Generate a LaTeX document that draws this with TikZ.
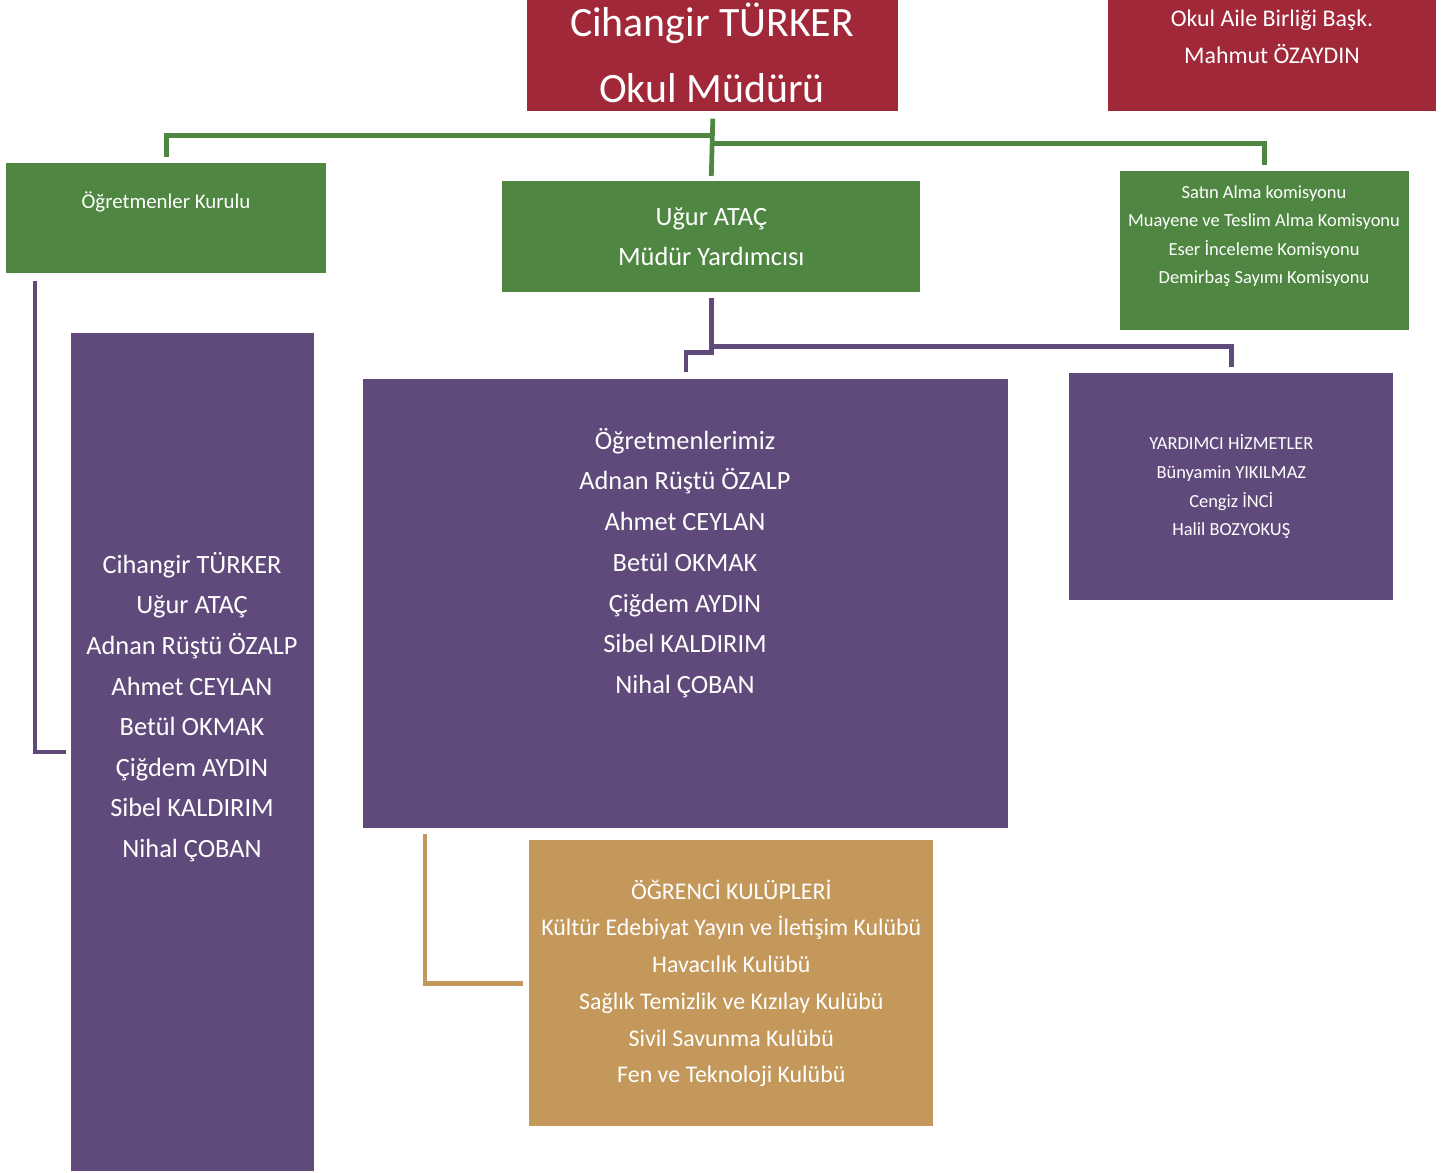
\documentclass[tikz,border=0pt]{standalone}
\usepackage{fontspec}
\setmainfont{Carlito}
\usetikzlibrary{positioning, calc}

\definecolor{okulred}{RGB}{161,40,56}
\definecolor{okulgreen}{RGB}{79,135,66}
\definecolor{okulpurple}{RGB}{96,74,123}
\definecolor{okultan}{RGB}{195,152,90}

\tikzset{
  box/.style={rectangle, anchor=north west, inner sep=0pt, text=white, align=center},
  txt/.style={inner sep=0pt, text=white, align=center},
  gline/.style={draw=okulgreen, line width=2.7pt},
  pline/.style={draw=okulpurple, line width=2.5pt},
  tline/.style={draw=okultan, line width=2.5pt}
}
\newcommand{\fs}[2]{\fontsize{#1}{#2}\selectfont}

\begin{document}
\begin{tikzpicture}[x=0.02cm, y=-0.02cm]
\useasboundingbox (0,0) rectangle (1447,1173);

\node[box, fill=okulred, minimum width=7.42cm, minimum height=2.22cm]
    (mudur) at (527,0) {};
\node[txt, font=\fs{23.8pt}{37.4pt}] (mudur-t) at (712,53)
    {Cihangir TÜRKER\\Okul Müdürü};
\node[box, fill=okulred, minimum width=6.56cm, minimum height=2.22cm]
    (oab) at (1108,0) {};
\node[txt, font=\fs{13.6pt}{21pt}] (oab-t) at (1272,37)
    {Okul Aile Birliği Başk.\\Mahmut ÖZAYDIN};

\node[box, fill=okulgreen, minimum width=6.40cm, minimum height=2.20cm]
    (kurul) at (6,163) {};
\node[txt, font=\fs{11.9pt}{14pt}] (kurul-t) at (166,202) {Öğretmenler Kurulu};
\node[box, fill=okulgreen, minimum width=8.36cm, minimum height=2.22cm,
    font=\fs{15pt}{22.7pt}] (yard) at (502,181)
    {Uğur ATAÇ\\Müdür Yardımcısı};
\node[box, fill=okulgreen, minimum width=5.78cm, minimum height=3.18cm]
    (komisyon) at (1120,171) {};
\node[txt, font=\fs{10.5pt}{16.2pt}] (komisyon-t) at (1264,236)
    {Satın Alma komisyonu\\Muayene ve Teslim Alma Komisyonu\\
     Eser İnceleme Komisyonu\\Demirbaş Sayımı Komisyonu};

\node[box, fill=okulpurple, minimum width=4.86cm, minimum height=16.76cm]
    (kadro) at (71,333) {};
\node[txt, font=\fs{15pt}{23.1pt}] (kadro-t) at (192,707)
    {Cihangir TÜRKER\\Uğur ATAÇ\\Adnan Rüştü ÖZALP\\Ahmet CEYLAN\\
     Betül OKMAK\\Çiğdem AYDIN\\Sibel KALDIRIM\\Nihal ÇOBAN};
\node[box, fill=okulpurple, minimum width=12.90cm, minimum height=8.98cm]
    (ogretmen) at (363,379) {};
\node[txt, font=\fs{15pt}{23.2pt}] (ogretmen-t) at (685,563)
    {Öğretmenlerimiz\\Adnan Rüştü ÖZALP\\Ahmet CEYLAN\\Betül OKMAK\\
     Çiğdem AYDIN\\Sibel KALDIRIM\\Nihal ÇOBAN};
\node[box, fill=okulpurple, minimum width=6.48cm, minimum height=4.54cm,
    font=\fs{10.5pt}{16.3pt}] (yardimci) at (1069,373)
    {YARDIMCI HİZMETLER\\Bünyamin YIKILMAZ\\Cengiz İNCİ\\Halil BOZYOKUŞ};
\node[box, fill=okultan, minimum width=8.08cm, minimum height=5.72cm,
    font=\fs{13.6pt}{20.9pt}] (kulup) at (529,840)
    {ÖĞRENCİ KULÜPLERİ\\Kültür Edebiyat Yayın ve İletişim Kulübü\\
     Havacılık Kulübü\\Sağlık Temizlik ve Kızılay Kulübü\\
     Sivil Savunma Kulübü\\Fen ve Teknoloji Kulübü};

\draw[gline] ($(mudur.south)+(0,7)$) -- ($(yard.north)+(0,-5)$);
\draw[gline] ($(mudur.south)+(0,24)$) -| ($(kurul.north)+(0,-6)$);
\draw[gline] ($(mudur.south)+(0,32)$) -| ($(komisyon.north)+(0,-6)$);

\draw[pline] ($(yard.south)+(0,5)$) -- ($(yard.south)+(0,60)$)
    -| ($(ogretmen.north)+(0,-7)$);
\draw[pline] ($(yard.south)+(0,54)$) -| ($(yardimci.north)+(0,-6)$);
\draw[pline] ($(kurul.south west)+(29,7)$) |- ($(kadro.west)+(-5,0)$);

\draw[tline] ($(ogretmen.south west)+(62,5)$) |- ($(kulup.west)+(-6,0)$);
\end{tikzpicture}
\end{document}
